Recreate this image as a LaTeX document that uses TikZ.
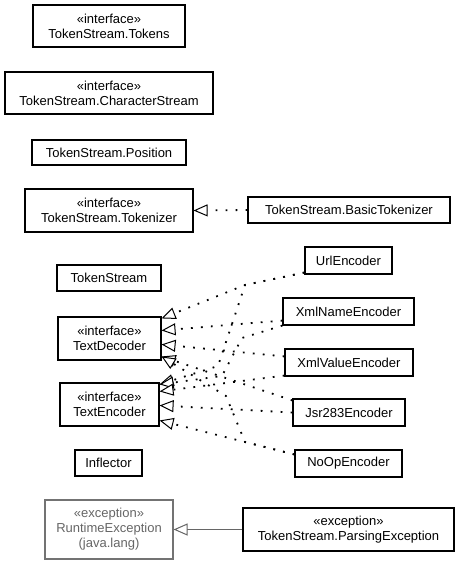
\documentclass[tikz,border=0pt]{standalone}
\usepackage{fontspec}
\setmainfont{Liberation Sans}
\usetikzlibrary{arrows.meta}
\begin{document}
\begin{tikzpicture}[x=1pt,y=-1pt,
  cls/.style={draw=black,line width=1.1pt,fill=white,inner sep=0pt,align=center,
    font=\fontsize{13}{15}\selectfont},
  ext/.style={cls,draw=black!55,text=black!60},
  realize/.style={line width=1.8pt,dash pattern=on 1.8pt off 8.2pt,
    -{Triangle[open,fill=white,length=14pt,width=12pt,line width=1pt,sep=0pt]}},
  inherit/.style={line width=1pt,draw=black!60,
    -{Triangle[open,fill=white,length=14pt,width=12pt,line width=1pt]}}
]
\useasboundingbox (0,0) rectangle (461,565);
\node[cls,minimum width=152pt,minimum height=42pt] (tokens) at (109,26) {«interface»\\TokenStream.Tokens};
\node[cls,minimum width=208pt,minimum height=42pt] (chars) at (109,93) {«interface»\\TokenStream.CharacterStream};
\node[cls,minimum width=154pt,minimum height=25pt] (pos) at (109,152.5) {TokenStream.Position};
\node[cls,minimum width=168pt,minimum height=43pt] (tokenizer) at (109,210.5) {«interface»\\TokenStream.Tokenizer};
\node[cls,minimum width=202pt,minimum height=26pt] (basic) at (349,210) {TokenStream.BasicTokenizer};
\node[cls,minimum width=104pt,minimum height=26pt] (ts) at (109,278) {TokenStream};
\node[cls,minimum width=103pt,minimum height=43pt] (dec) at (109.5,338.5) {«interface»\\TextDecoder};
\node[cls,minimum width=99pt,minimum height=43pt] (enc) at (109.5,404.5) {«interface»\\TextEncoder};
\node[cls,minimum width=67pt,minimum height=26pt] (infl) at (108.5,463) {Inflector};
\node[cls,minimum width=87pt,minimum height=27pt] (url) at (348.5,260.5) {UrlEncoder};
\node[cls,minimum width=131pt,minimum height=27pt] (xname) at (348.5,311.5) {XmlNameEncoder};
\node[cls,minimum width=128pt,minimum height=27pt] (xval) at (349,362.5) {XmlValueEncoder};
\node[cls,minimum width=112pt,minimum height=27pt] (jsr) at (349,412.5) {Jsr283Encoder};
\node[cls,minimum width=107pt,minimum height=27pt] (noop) at (348.5,463.5) {NoOpEncoder};
\node[ext,minimum width=128pt,minimum height=59pt] (rte) at (109,529.5) {«exception»\\RuntimeException\\(java.lang)};
\node[cls,minimum width=211pt,minimum height=43pt] (pe) at (348.5,529.5) {«exception»\\TokenStream.ParsingException};

\coordinate (b1) at (245,285);
\coordinate (b2) at (218,366);
\coordinate (b3) at (242,338);
\coordinate (b6) at (222,376);
\coordinate (b4) at (245,442);
\coordinate (b5) at (226,396);

\draw[realize] (basic.west) -- (tokenizer.east);
\draw[realize] ([yshift=2pt]url.south west) -- (b1) -- ([yshift=-2pt]dec.north east);
\draw[realize] ([yshift=2pt]url.south west) -- (b1) -- (b2) -- ([yshift=-2pt]enc.north east);
\draw[realize] ([yshift=5pt]xname.south west) -- ([yshift=-14pt]dec.north east);
\draw[realize] (xname.south west) -- (b3) -- (b6) -- ([yshift=-2pt]enc.north east);
\draw[realize] ([yshift=-8pt]xval.north west) -- ([yshift=-28pt]dec.north east);
\draw[realize] ([yshift=1pt]xval.south west) -- ([yshift=-9pt]enc.north east);
\draw[realize] ([yshift=-2pt]jsr.north west) -- ([yshift=-40pt]dec.north east);
\draw[realize] (jsr.west) -- ([yshift=-23pt]enc.north east);
\draw[realize] ([yshift=-5pt]noop.north west) -- (b4) -- ([yshift=-38pt]enc.north east);
\draw[realize] ([yshift=-5pt]noop.north west) -- (b4) -- (b5) -- ([yshift=-40pt]dec.north east);
\draw[inherit] (pe.west) -- (rte.east);
\end{tikzpicture}
\end{document}
